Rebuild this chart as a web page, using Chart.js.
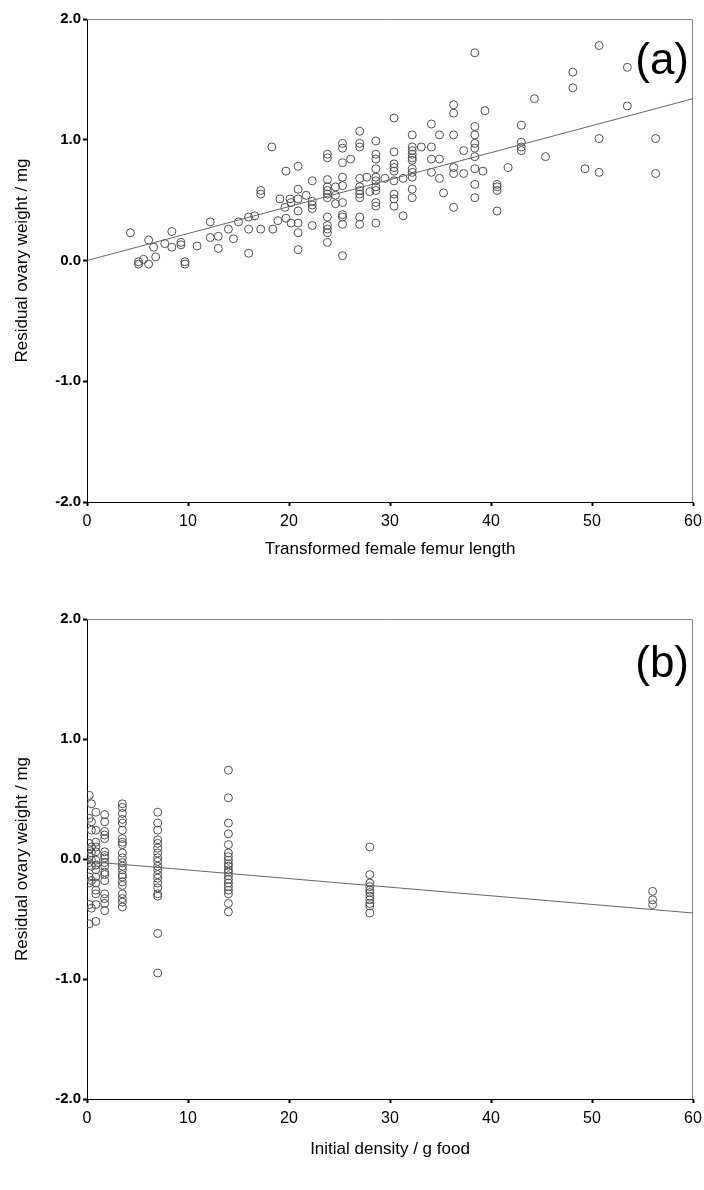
<!DOCTYPE html>
<html>
<head>
<meta charset="utf-8">
<script src="https://cdn.jsdelivr.net/npm/chart.js@4/dist/chart.umd.min.js"></script>
<style>
  html, body { margin: 0; padding: 0; background: #fff; }
  .panel { position: absolute; left: 0; width: 704px; height: 595px; }
</style>
</head>
<body>
<div class="panel" style="top:0"><canvas id="chartA" width="704" height="595"></canvas></div>
<div class="panel" style="top:595px"><canvas id="chartB" width="704" height="595"></canvas></div>
<script>
// panel (a): transformed female femur length vs residual ovary weight
const femurLength = [
  4.3, 5.1, 5.6, 6.1, 5.1, 6.1, 6.6, 6.8, 7.7, 8.4, 8.4, 9.3, 9.3, 9.7, 9.7, 10.9,
  12.2, 12.2, 13.0, 13.0, 14.0, 14.5, 15.0, 16.0, 16.0, 16.6, 16.0, 17.2, 17.2, 17.2,
  18.4, 18.3, 19.1, 18.9, 19.7, 19.6, 19.7, 20.2, 20.2, 20.1,
  20.9, 20.9, 20.9, 20.9, 20.9, 20.9, 20.9, 21.7, 22.3, 22.3, 22.3, 22.3, 22.3,
  23.8, 23.8, 23.8, 23.8, 23.8, 23.8, 23.8, 23.8, 23.8, 23.8, 23.8, 23.8,
  24.6, 24.6, 24.6,
  25.3, 25.3, 25.3, 25.3, 25.3, 25.3, 25.3, 25.3, 25.3, 25.3, 26.1,
  27.0, 27.0, 27.0, 27.0, 27.0, 27.0, 27.0, 27.0, 27.0, 27.0, 27.7, 28.0,
  28.6, 28.6, 28.6, 28.6, 28.6, 28.6, 28.6, 28.6, 28.6, 28.6, 28.6, 29.5,
  30.4, 30.4, 30.4, 30.4, 30.4, 30.4, 30.4, 30.4, 30.4, 31.3, 31.3,
  32.2, 32.2, 32.2, 32.2, 32.2, 32.2, 32.2, 32.2, 32.2, 32.2, 32.2, 33.1,
  34.1, 34.1, 34.1, 34.1, 34.9, 34.9, 34.9, 35.3,
  36.3, 36.3, 36.3, 36.3, 36.3, 36.3, 37.3, 37.3,
  38.4, 38.4, 38.4, 38.4, 38.4, 38.4, 38.4, 38.4, 38.4, 39.2, 39.4,
  40.6, 40.6, 40.6, 40.6, 41.7, 43.0, 43.0, 43.0, 43.0, 44.3, 45.4,
  48.1, 48.1, 49.3, 50.7, 50.7, 50.7, 53.5, 53.5, 56.3, 56.3
];
const residualA = [
  0.23, -0.01, 0.01, -0.03, -0.03, 0.17, 0.11, 0.03, 0.14, 0.24, 0.11, 0.15, 0.13, -0.01, -0.03, 0.12,
  0.32, 0.19, 0.20, 0.10, 0.26, 0.18, 0.32, 0.36, 0.26, 0.37, 0.06, 0.58, 0.55, 0.26,
  0.26, 0.94, 0.51, 0.33, 0.74, 0.44, 0.35, 0.48, 0.31, 0.51,
  0.78, 0.59, 0.51, 0.41, 0.31, 0.23, 0.09, 0.54, 0.66, 0.49, 0.46, 0.43, 0.29,
  0.88, 0.85, 0.67, 0.61, 0.58, 0.55, 0.52, 0.36, 0.29, 0.26, 0.23, 0.15,
  0.61, 0.54, 0.47,
  0.97, 0.93, 0.81, 0.69, 0.62, 0.48, 0.38, 0.36, 0.30, 0.04, 0.84,
  1.07, 0.97, 0.94, 0.68, 0.61, 0.58, 0.55, 0.52, 0.36, 0.30, 0.69, 0.57,
  0.99, 0.88, 0.84, 0.76, 0.69, 0.66, 0.61, 0.58, 0.48, 0.45, 0.31, 0.68,
  1.18, 0.90, 0.80, 0.77, 0.74, 0.66, 0.55, 0.51, 0.45, 0.68, 0.37,
  1.04, 0.94, 0.91, 0.88, 0.85, 0.83, 0.76, 0.73, 0.69, 0.59, 0.52, 0.94,
  1.13, 0.94, 0.84, 0.73, 1.04, 0.84, 0.68, 0.56,
  1.29, 1.22, 1.04, 0.77, 0.72, 0.44, 0.91, 0.72,
  1.72, 1.11, 1.04, 0.97, 0.93, 0.86, 0.76, 0.63, 0.52, 0.74, 1.24,
  0.63, 0.61, 0.58, 0.41, 0.77, 1.12, 0.98, 0.94, 0.91, 1.34, 0.86,
  1.56, 1.43, 0.76, 1.78, 1.01, 0.73, 1.60, 1.28, 1.01, 0.72
];
const fitXA = [0, 60];
const fitYA = [0.0, 1.34];

// panel (b): initial density vs residual ovary weight
const densityLevels = [0.22, 0.44, 0.875, 1.75, 3.5, 7, 14, 28, 56];
const residualB = [
  [0.53, 0.34, 0.13, 0.08, 0.02, -0.03, -0.15, -0.20, -0.38, -0.54],
  [0.46, 0.31, 0.24, 0.10, 0.05, -0.01, -0.06, -0.18, -0.41],
  [0.39, 0.24, 0.14, 0.10, 0.06, -0.01, -0.05, -0.09, -0.15, -0.20, -0.26, -0.29, -0.38, -0.52],
  [0.37, 0.31, 0.23, 0.20, 0.17, 0.06, 0.03, 0.01, -0.03, -0.06, -0.11, -0.13, -0.18, -0.29, -0.33, -0.37, -0.43],
  [0.46, 0.43, 0.38, 0.33, 0.30, 0.24, 0.17, 0.14, 0.12, 0.05, 0.01, -0.03, -0.06, -0.09, -0.13, -0.15, -0.19, -0.22, -0.29, -0.33, -0.36, -0.40],
  [0.39, 0.30, 0.24, 0.16, 0.13, 0.09, 0.05, 0.01, -0.02, -0.06, -0.09, -0.13, -0.16, -0.20, -0.24, -0.29, -0.31, -0.62, -0.95],
  [0.74, 0.51, 0.30, 0.21, 0.12, 0.05, 0.02, -0.01, -0.04, -0.06, -0.09, -0.11, -0.14, -0.17, -0.20, -0.23, -0.26, -0.29, -0.37, -0.44],
  [0.10, -0.13, -0.20, -0.23, -0.26, -0.28, -0.31, -0.34, -0.37, -0.39, -0.45],
  [-0.27, -0.34, -0.38]
];
const fitXB = [0, 60];
const fitYB = [-0.02, -0.45];

const xTicks = [0, 10, 20, 30, 40, 50, 60];
const yTicks = [-2, -1, 0, 1, 2];

const FONT = "'Liberation Sans', Arial, sans-serif";

const frame = {
  id: 'frame',
  beforeDatasetsDraw(chart) {
    const a = chart.chartArea, ctx = chart.ctx;
    ctx.save();
    ctx.strokeStyle = '#888';
    ctx.lineWidth = 1;
    ctx.beginPath();
    ctx.moveTo(a.left, a.top + 0.5);
    ctx.lineTo(a.right - 0.5, a.top + 0.5);
    ctx.lineTo(a.right - 0.5, a.bottom);
    ctx.stroke();
    ctx.restore();
  },
  afterDraw(chart, args, opts) {
    const a = chart.chartArea, ctx = chart.ctx;
    ctx.save();
    ctx.fillStyle = '#000';
    ctx.font = '44px ' + FONT;
    ctx.textAlign = 'right';
    ctx.textBaseline = 'alphabetic';
    ctx.fillText(opts.label, a.right - 4, a.top + opts.dy);
    ctx.restore();
  }
};

function makeChart(id, pts, fx, fy, xTitle, cfg) {
  const fit = fx.map((x, i) => ({ x: x, y: fy[i] }));
  return new Chart(document.getElementById(id), {
    type: 'scatter',
    data: {
      datasets: [{
        data: pts,
        pointStyle: 'circle',
        pointRadius: 4,
        pointBorderWidth: 1,
        pointBorderColor: '#505050',
        pointBackgroundColor: 'rgba(0,0,0,0)',
        order: 2
      }, {
        type: 'line',
        data: fit,
        borderColor: '#666',
        borderWidth: 1,
        pointRadius: 0,
        order: 1
      }]
    },
    options: {
      responsive: false,
      animation: false,
      devicePixelRatio: 1,
      layout: { padding: { top: cfg.top, right: 11, left: 0, bottom: 0 } },
      plugins: {
        legend: { display: false },
        tooltip: { enabled: false },
        frame: { label: cfg.label, dy: cfg.dy }
      },
      scales: {
        x: {
          type: 'linear', min: 0, max: 60,
          afterBuildTicks: s => { s.ticks = xTicks.map(v => ({ value: v })); },
          afterFit: s => { s.height = cfg.xh; s.paddingLeft = 0; s.paddingRight = 0; },
          ticks: { color: '#000', font: { family: FONT, size: 16 }, padding: 6, maxRotation: 0 },
          grid: { drawOnChartArea: false, tickLength: 4, tickColor: '#000', tickWidth: 2 },
          border: { color: '#000', width: 1 },
          title: { display: true, text: xTitle, color: '#000', font: { family: FONT, size: 17 }, padding: { bottom: cfg.tpb } }
        },
        y: {
          type: 'linear', min: -2, max: 2,
          afterBuildTicks: s => { s.ticks = yTicks.map(v => ({ value: v })); },
          afterFit: s => { s.width = 87; s.paddingTop = 0; s.paddingBottom = 0; },
          ticks: { color: '#000', font: { family: FONT, size: 15, weight: 'bold' }, padding: 2, callback: v => v.toFixed(1) },
          grid: { drawOnChartArea: false, tickLength: 4, tickColor: '#000', tickWidth: 2 },
          border: { color: '#000', width: 1 },
          title: { display: true, text: 'Residual ovary weight / mg', color: '#000', font: { family: FONT, size: 17 }, padding: { top: 12 } }
        }
      }
    },
    plugins: [frame]
  });
}

const ptsA = femurLength.map((x, i) => ({ x: x, y: residualA[i] }));
const ptsB = [];
densityLevels.forEach((d, i) => residualB[i].forEach(v => ptsB.push({ x: d, y: v })));

makeChart('chartA', ptsA, fitXA, fitYA, 'Transformed female femur length',
  { top: 19, xh: 93, tpb: 35, label: '(a)', dy: 55 });
makeChart('chartB', ptsB, fitXB, fitYB, 'Initial density / g food',
  { top: 24, xh: 91, tpb: 30, label: '(b)', dy: 58 });
</script>
</body>
</html>
